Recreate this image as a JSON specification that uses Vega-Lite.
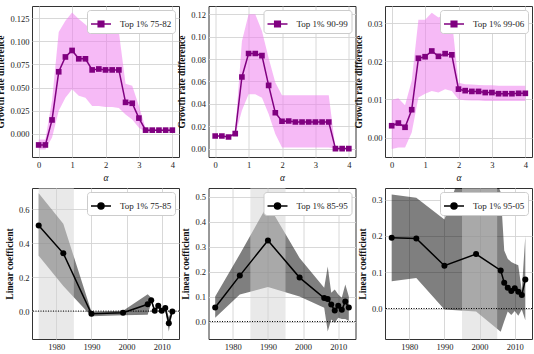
{
  "$schema": "https://vega.github.io/schema/vega-lite/v6.json",
  "padding": {"left": -5, "top": 5, "right": 0, "bottom": 0},
  "background": "white",
  "datasets": {
    "p1": [
      {"a": 0.0, "y": -0.012, "lo": -0.017, "hi": -0.006, "s": "Top 1% 75-82"},
      {"a": 0.2, "y": -0.012, "lo": -0.017, "hi": -0.006, "s": "Top 1% 75-82"},
      {"a": 0.4, "y": 0.015, "lo": -0.004, "hi": 0.036, "s": "Top 1% 75-82"},
      {"a": 0.6, "y": 0.067, "lo": 0.025, "hi": 0.110, "s": "Top 1% 75-82"},
      {"a": 0.8, "y": 0.083, "lo": 0.039, "hi": 0.122, "s": "Top 1% 75-82"},
      {"a": 1.0, "y": 0.090, "lo": 0.048, "hi": 0.131, "s": "Top 1% 75-82"},
      {"a": 1.2, "y": 0.081, "lo": 0.041, "hi": 0.124, "s": "Top 1% 75-82"},
      {"a": 1.4, "y": 0.081, "lo": 0.039, "hi": 0.118, "s": "Top 1% 75-82"},
      {"a": 1.6, "y": 0.069, "lo": 0.030, "hi": 0.111, "s": "Top 1% 75-82"},
      {"a": 1.8, "y": 0.070, "lo": 0.030, "hi": 0.110, "s": "Top 1% 75-82"},
      {"a": 2.0, "y": 0.069, "lo": 0.029, "hi": 0.110, "s": "Top 1% 75-82"},
      {"a": 2.2, "y": 0.069, "lo": 0.029, "hi": 0.110, "s": "Top 1% 75-82"},
      {"a": 2.4, "y": 0.069, "lo": 0.028, "hi": 0.110, "s": "Top 1% 75-82"},
      {"a": 2.6, "y": 0.034, "lo": 0.021, "hi": 0.054, "s": "Top 1% 75-82"},
      {"a": 2.8, "y": 0.033, "lo": 0.0155, "hi": 0.052, "s": "Top 1% 75-82"},
      {"a": 3.0, "y": 0.017, "lo": 0.0065, "hi": 0.030, "s": "Top 1% 75-82"},
      {"a": 3.2, "y": 0.004, "lo": 0.002, "hi": 0.006, "s": "Top 1% 75-82"},
      {"a": 3.4, "y": 0.004, "lo": 0.003, "hi": 0.005, "s": "Top 1% 75-82"},
      {"a": 3.6, "y": 0.004, "lo": 0.003, "hi": 0.005, "s": "Top 1% 75-82"},
      {"a": 3.8, "y": 0.004, "lo": 0.003, "hi": 0.005, "s": "Top 1% 75-82"},
      {"a": 4.0, "y": 0.004, "lo": 0.003, "hi": 0.005, "s": "Top 1% 75-82"}
    ],
    "p2": [
      {"a": 0.0, "y": 0.0113, "lo": 0.0108, "hi": 0.0118, "s": "Top 1% 90-99"},
      {"a": 0.2, "y": 0.0113, "lo": 0.0108, "hi": 0.0118, "s": "Top 1% 90-99"},
      {"a": 0.4, "y": 0.0104, "lo": 0.0099, "hi": 0.0109, "s": "Top 1% 90-99"},
      {"a": 0.6, "y": 0.0134, "lo": 0.012, "hi": 0.015, "s": "Top 1% 90-99"},
      {"a": 0.8, "y": 0.064, "lo": 0.034, "hi": 0.096, "s": "Top 1% 90-99"},
      {"a": 1.0, "y": 0.085, "lo": 0.0485, "hi": 0.120, "s": "Top 1% 90-99"},
      {"a": 1.2, "y": 0.085, "lo": 0.0485, "hi": 0.120, "s": "Top 1% 90-99"},
      {"a": 1.4, "y": 0.083, "lo": 0.0455, "hi": 0.105, "s": "Top 1% 90-99"},
      {"a": 1.6, "y": 0.0565, "lo": 0.031, "hi": 0.081, "s": "Top 1% 90-99"},
      {"a": 1.8, "y": 0.032, "lo": 0.013, "hi": 0.059, "s": "Top 1% 90-99"},
      {"a": 2.0, "y": 0.0244, "lo": 0.001, "hi": 0.0476, "s": "Top 1% 90-99"},
      {"a": 2.2, "y": 0.0247, "lo": 0.001, "hi": 0.0476, "s": "Top 1% 90-99"},
      {"a": 2.4, "y": 0.0238, "lo": 0.001, "hi": 0.0476, "s": "Top 1% 90-99"},
      {"a": 2.6, "y": 0.0238, "lo": 0.001, "hi": 0.0476, "s": "Top 1% 90-99"},
      {"a": 2.8, "y": 0.0238, "lo": 0.001, "hi": 0.0476, "s": "Top 1% 90-99"},
      {"a": 3.0, "y": 0.0238, "lo": 0.001, "hi": 0.0476, "s": "Top 1% 90-99"},
      {"a": 3.2, "y": 0.0238, "lo": 0.001, "hi": 0.0476, "s": "Top 1% 90-99"},
      {"a": 3.4, "y": 0.0238, "lo": 0.001, "hi": 0.0476, "s": "Top 1% 90-99"},
      {"a": 3.6, "y": 0.0, "lo": 0.0, "hi": 0.0, "s": "Top 1% 90-99"},
      {"a": 3.8, "y": 0.0, "lo": 0.0, "hi": 0.0, "s": "Top 1% 90-99"},
      {"a": 4.0, "y": 0.0, "lo": 0.0, "hi": 0.0, "s": "Top 1% 90-99"}
    ],
    "p3": [
      {"a": 0.0, "y": 0.0031, "lo": -0.0030, "hi": 0.0099, "s": "Top 1% 99-06"},
      {"a": 0.2, "y": 0.0038, "lo": -0.0026, "hi": 0.0103, "s": "Top 1% 99-06"},
      {"a": 0.4, "y": 0.0027, "lo": -0.0026, "hi": 0.0085, "s": "Top 1% 99-06"},
      {"a": 0.6, "y": 0.0073, "lo": 0.0013, "hi": 0.0149, "s": "Top 1% 99-06"},
      {"a": 0.8, "y": 0.0208, "lo": 0.0105, "hi": 0.0309, "s": "Top 1% 99-06"},
      {"a": 1.0, "y": 0.0212, "lo": 0.0115, "hi": 0.0309, "s": "Top 1% 99-06"},
      {"a": 1.2, "y": 0.0227, "lo": 0.0122, "hi": 0.0327, "s": "Top 1% 99-06"},
      {"a": 1.4, "y": 0.0213, "lo": 0.0118, "hi": 0.0315, "s": "Top 1% 99-06"},
      {"a": 1.6, "y": 0.0220, "lo": 0.0127, "hi": 0.0324, "s": "Top 1% 99-06"},
      {"a": 1.8, "y": 0.0217, "lo": 0.0122, "hi": 0.0310, "s": "Top 1% 99-06"},
      {"a": 2.0, "y": 0.0127, "lo": 0.0100, "hi": 0.0144, "s": "Top 1% 99-06"},
      {"a": 2.2, "y": 0.0123, "lo": 0.0098, "hi": 0.0140, "s": "Top 1% 99-06"},
      {"a": 2.4, "y": 0.0121, "lo": 0.0097, "hi": 0.0139, "s": "Top 1% 99-06"},
      {"a": 2.6, "y": 0.0121, "lo": 0.0097, "hi": 0.0138, "s": "Top 1% 99-06"},
      {"a": 2.8, "y": 0.0118, "lo": 0.0096, "hi": 0.0137, "s": "Top 1% 99-06"},
      {"a": 3.0, "y": 0.0118, "lo": 0.0096, "hi": 0.0137, "s": "Top 1% 99-06"},
      {"a": 3.2, "y": 0.0115, "lo": 0.0096, "hi": 0.0136, "s": "Top 1% 99-06"},
      {"a": 3.4, "y": 0.0115, "lo": 0.0096, "hi": 0.0136, "s": "Top 1% 99-06"},
      {"a": 3.6, "y": 0.0115, "lo": 0.0096, "hi": 0.0136, "s": "Top 1% 99-06"},
      {"a": 3.8, "y": 0.0116, "lo": 0.0096, "hi": 0.0136, "s": "Top 1% 99-06"},
      {"a": 4.0, "y": 0.0116, "lo": 0.0096, "hi": 0.0136, "s": "Top 1% 99-06"}
    ],
    "p4": [
      {"yr": 1975, "y": 0.506, "lo": 0.327, "hi": 0.696, "s": "Top 1% 75-85"},
      {"yr": 1982, "y": 0.341, "lo": 0.148, "hi": 0.516, "s": "Top 1% 75-85"},
      {"yr": 1990, "y": -0.016, "lo": -0.030, "hi": -0.004, "s": "Top 1% 75-85"},
      {"yr": 1999, "y": -0.010, "lo": -0.025, "hi": 0.002, "s": "Top 1% 75-85"},
      {"yr": 2006, "y": 0.040, "lo": -0.022, "hi": 0.100, "s": "Top 1% 75-85"},
      {"yr": 2007, "y": 0.064, "lo": 0.050, "hi": 0.078, "s": "Top 1% 75-85"},
      {"yr": 2008, "y": 0.002, "lo": -0.010, "hi": 0.014, "s": "Top 1% 75-85"},
      {"yr": 2009, "y": 0.032, "lo": 0.018, "hi": 0.046, "s": "Top 1% 75-85"},
      {"yr": 2010, "y": 0.002, "lo": -0.012, "hi": 0.016, "s": "Top 1% 75-85"},
      {"yr": 2011, "y": 0.018, "lo": 0.004, "hi": 0.032, "s": "Top 1% 75-85"},
      {"yr": 2012, "y": -0.072, "lo": -0.120, "hi": -0.035, "s": "Top 1% 75-85"},
      {"yr": 2013, "y": -0.002, "lo": -0.012, "hi": 0.008, "s": "Top 1% 75-85"}
    ],
    "p5": [
      {"yr": 1975, "y": 0.056, "lo": 0.015, "hi": 0.100, "s": "Top 1% 85-95"},
      {"yr": 1982, "y": 0.184, "lo": 0.108, "hi": 0.270, "s": "Top 1% 85-95"},
      {"yr": 1990, "y": 0.325, "lo": 0.138, "hi": 0.470, "s": "Top 1% 85-95"},
      {"yr": 1999, "y": 0.176, "lo": 0.100, "hi": 0.255, "s": "Top 1% 85-95"},
      {"yr": 2006, "y": 0.094, "lo": 0.055, "hi": 0.135, "s": "Top 1% 85-95"},
      {"yr": 2007, "y": 0.090, "lo": -0.040, "hi": 0.220, "s": "Top 1% 85-95"},
      {"yr": 2008, "y": 0.068, "lo": 0.008, "hi": 0.115, "s": "Top 1% 85-95"},
      {"yr": 2009, "y": 0.044, "lo": -0.005, "hi": 0.128, "s": "Top 1% 85-95"},
      {"yr": 2010, "y": 0.063, "lo": 0.015, "hi": 0.108, "s": "Top 1% 85-95"},
      {"yr": 2011, "y": 0.047, "lo": 0.010, "hi": 0.095, "s": "Top 1% 85-95"},
      {"yr": 2012, "y": 0.080, "lo": 0.010, "hi": 0.148, "s": "Top 1% 85-95"},
      {"yr": 2013, "y": 0.056, "lo": 0.002, "hi": 0.100, "s": "Top 1% 85-95"}
    ],
    "p6": [
      {"yr": 1975, "y": 0.195, "lo": 0.075, "hi": 0.314, "s": "Top 1% 95-05"},
      {"yr": 1982, "y": 0.193, "lo": 0.084, "hi": 0.305, "s": "Top 1% 95-05"},
      {"yr": 1990, "y": 0.118, "lo": -0.003, "hi": 0.245, "s": "Top 1% 95-05"},
      {"yr": 1999, "y": 0.150, "lo": -0.008, "hi": 0.500, "s": "Top 1% 95-05"},
      {"yr": 2006, "y": 0.105, "lo": -0.064, "hi": 0.320, "s": "Top 1% 95-05"},
      {"yr": 2007, "y": 0.071, "lo": -0.035, "hi": 0.160, "s": "Top 1% 95-05"},
      {"yr": 2008, "y": 0.057, "lo": -0.008, "hi": 0.137, "s": "Top 1% 95-05"},
      {"yr": 2009, "y": 0.048, "lo": -0.018, "hi": 0.128, "s": "Top 1% 95-05"},
      {"yr": 2010, "y": 0.056, "lo": -0.007, "hi": 0.123, "s": "Top 1% 95-05"},
      {"yr": 2011, "y": 0.046, "lo": -0.020, "hi": 0.119, "s": "Top 1% 95-05"},
      {"yr": 2012, "y": 0.037, "lo": -0.003, "hi": 0.049, "s": "Top 1% 95-05"},
      {"yr": 2013, "y": 0.080, "lo": -0.032, "hi": 0.200, "s": "Top 1% 95-05"}
    ]
  },
  "concat": [
    {
      "width": 147, "height": 151,
      "data": {"name": "p1"},
      "layer": [
        {"mark": {"type": "area", "color": "#ee82ee", "opacity": 0.55, "clip": true},
         "encoding": {
           "x": {"field": "a", "type": "quantitative", "scale": {"domain": [-0.2, 4.2], "nice": false, "zero": false}, "axis": {"values": [0, 1, 2, 3, 4], "format": "d", "title": "α", "titleFontStyle": "italic", "titleFontWeight": "normal", "labelFlush": false}},
           "y": {"field": "lo", "type": "quantitative", "scale": {"domain": [-0.025, 0.138], "nice": false, "zero": false}, "axis": {"values": [0, 0.025, 0.05, 0.075, 0.1, 0.125], "format": ".3f", "title": "Growth rate difference"}},
           "y2": {"field": "hi"}
         }},
        {"mark": {"type": "line", "strokeWidth": 1.5, "clip": true, "point": {"shape": "square", "filled": true, "size": 32}},
         "encoding": {
           "x": {"field": "a", "type": "quantitative", "axis": {"values": [0, 1, 2, 3, 4], "format": "d", "title": "α", "titleFontStyle": "italic", "titleFontWeight": "normal", "labelFlush": false}},
           "y": {"field": "y", "type": "quantitative", "axis": {"values": [0, 0.025, 0.05, 0.075, 0.1, 0.125], "format": ".3f", "title": "Growth rate difference"}},
           "color": {"field": "s", "type": "nominal", "scale": {"range": ["#800080"]},
             "legend": {"symbolType": "M-1,0L1,0M-0.28,-0.28H0.28V0.28H-0.28Z", "symbolFillColor": "#800080", "symbolStrokeColor": "#800080",
               "encode": {"symbols": {"update": {"fill": {"value": "#800080"}, "stroke": {"value": "#800080"}}}}}}
         }}
      ]
    },
    {
      "width": 147, "height": 151,
      "data": {"name": "p2"},
      "layer": [
        {"mark": {"type": "area", "color": "#ee82ee", "opacity": 0.55, "clip": true},
         "encoding": {
           "x": {"field": "a", "type": "quantitative", "scale": {"domain": [-0.2, 4.2], "nice": false, "zero": false}, "axis": {"values": [0, 1, 2, 3, 4], "format": "d", "title": "α", "titleFontStyle": "italic", "titleFontWeight": "normal", "labelFlush": false}},
           "y": {"field": "lo", "type": "quantitative", "scale": {"domain": [-0.0075, 0.1274], "nice": false, "zero": false}, "axis": {"values": [0, 0.02, 0.04, 0.06, 0.08, 0.1, 0.12], "format": ".2f", "title": "Growth rate difference"}},
           "y2": {"field": "hi"}
         }},
        {"mark": {"type": "line", "strokeWidth": 1.5, "clip": true, "point": {"shape": "square", "filled": true, "size": 32}},
         "encoding": {
           "x": {"field": "a", "type": "quantitative", "axis": {"values": [0, 1, 2, 3, 4], "format": "d", "title": "α", "titleFontStyle": "italic", "titleFontWeight": "normal", "labelFlush": false}},
           "y": {"field": "y", "type": "quantitative", "axis": {"values": [0, 0.02, 0.04, 0.06, 0.08, 0.1, 0.12], "format": ".2f", "title": "Growth rate difference"}},
           "color": {"field": "s", "type": "nominal", "scale": {"range": ["#800080"]},
             "legend": {"symbolType": "M-1,0L1,0M-0.28,-0.28H0.28V0.28H-0.28Z", "symbolFillColor": "#800080", "symbolStrokeColor": "#800080",
               "encode": {"symbols": {"update": {"fill": {"value": "#800080"}, "stroke": {"value": "#800080"}}}}}}
         }}
      ]
    },
    {
      "width": 147, "height": 151,
      "data": {"name": "p3"},
      "layer": [
        {"mark": {"type": "area", "color": "#ee82ee", "opacity": 0.55, "clip": true},
         "encoding": {
           "x": {"field": "a", "type": "quantitative", "scale": {"domain": [-0.2, 4.2], "nice": false, "zero": false}, "axis": {"values": [0, 1, 2, 3, 4], "format": "d", "title": "α", "titleFontStyle": "italic", "titleFontWeight": "normal", "labelFlush": false}},
           "y": {"field": "lo", "type": "quantitative", "scale": {"domain": [-0.0051, 0.0345], "nice": false, "zero": false}, "axis": {"values": [0, 0.01, 0.02, 0.03], "format": ".2f", "title": "Growth rate difference"}},
           "y2": {"field": "hi"}
         }},
        {"mark": {"type": "line", "strokeWidth": 1.5, "clip": true, "point": {"shape": "square", "filled": true, "size": 32}},
         "encoding": {
           "x": {"field": "a", "type": "quantitative", "axis": {"values": [0, 1, 2, 3, 4], "format": "d", "title": "α", "titleFontStyle": "italic", "titleFontWeight": "normal", "labelFlush": false}},
           "y": {"field": "y", "type": "quantitative", "axis": {"values": [0, 0.01, 0.02, 0.03], "format": ".2f", "title": "Growth rate difference"}},
           "color": {"field": "s", "type": "nominal", "scale": {"range": ["#800080"]},
             "legend": {"symbolType": "M-1,0L1,0M-0.28,-0.28H0.28V0.28H-0.28Z", "symbolFillColor": "#800080", "symbolStrokeColor": "#800080",
               "encode": {"symbols": {"update": {"fill": {"value": "#800080"}, "stroke": {"value": "#800080"}}}}}}
         }}
      ]
    },
    {
      "width": 147, "height": 151,
      "data": {"name": "p4"},
      "layer": [
        {"mark": {"type": "area", "color": "#000000", "opacity": 0.5, "clip": true},
         "encoding": {
           "x": {"field": "yr", "type": "quantitative", "scale": {"domain": [1973.1, 2014.9], "nice": false, "zero": false}, "axis": {"values": [1980, 1990, 2000, 2010], "format": "d", "title": "Year", "labelFlush": false}},
           "y": {"field": "lo", "type": "quantitative", "scale": {"domain": [-0.165, 0.727], "nice": false, "zero": false}, "axis": {"values": [0, 0.2, 0.4, 0.6], "format": ".1f", "title": "Linear coefficient"}},
           "y2": {"field": "hi"}
         }},
        {"data": {"values": [{"start": 1975, "end": 1985}]},
         "mark": {"type": "rect", "color": "#d3d3d3", "opacity": 0.5},
         "encoding": {"x": {"field": "start", "type": "quantitative", "axis": {"values": [1980, 1990, 2000, 2010], "format": "d", "title": "Year", "labelFlush": false}}, "x2": {"field": "end"}}},
        {"data": {"values": [{"z": 0}]},
         "mark": {"type": "rule", "color": "#000000", "strokeWidth": 1, "strokeDash": [1, 1.5]},
         "encoding": {"y": {"field": "z", "type": "quantitative", "axis": {"values": [0, 0.2, 0.4, 0.6], "format": ".1f", "title": "Linear coefficient"}}}},
        {"mark": {"type": "line", "strokeWidth": 1.5, "clip": true, "point": {"shape": "circle", "filled": true, "size": 36}},
         "encoding": {
           "x": {"field": "yr", "type": "quantitative", "axis": {"values": [1980, 1990, 2000, 2010], "format": "d", "title": "Year", "labelFlush": false}},
           "y": {"field": "y", "type": "quantitative", "axis": {"values": [0, 0.2, 0.4, 0.6], "format": ".1f", "title": "Linear coefficient"}},
           "color": {"field": "s", "type": "nominal", "scale": {"range": ["#000000"]},
             "legend": {"symbolType": "M-1,0L1,0M0.3,0A0.3,0.3,0,1,1,-0.3,0A0.3,0.3,0,1,1,0.3,0Z", "symbolFillColor": "#000000", "symbolStrokeColor": "#000000",
               "encode": {"symbols": {"update": {"fill": {"value": "#000000"}, "stroke": {"value": "#000000"}}}}}}
         }}
      ]
    },
    {
      "width": 147, "height": 151,
      "data": {"name": "p5"},
      "layer": [
        {"mark": {"type": "area", "color": "#000000", "opacity": 0.5, "clip": true},
         "encoding": {
           "x": {"field": "yr", "type": "quantitative", "scale": {"domain": [1973.1, 2014.9], "nice": false, "zero": false}, "axis": {"values": [1980, 1990, 2000, 2010], "format": "d", "title": "Year", "labelFlush": false}},
           "y": {"field": "lo", "type": "quantitative", "scale": {"domain": [-0.07, 0.535], "nice": false, "zero": false}, "axis": {"values": [0, 0.1, 0.2, 0.3, 0.4, 0.5], "format": ".1f", "title": "Linear coefficient"}},
           "y2": {"field": "hi"}
         }},
        {"data": {"values": [{"start": 1985, "end": 1995}]},
         "mark": {"type": "rect", "color": "#d3d3d3", "opacity": 0.5},
         "encoding": {"x": {"field": "start", "type": "quantitative", "axis": {"values": [1980, 1990, 2000, 2010], "format": "d", "title": "Year", "labelFlush": false}}, "x2": {"field": "end"}}},
        {"data": {"values": [{"z": 0}]},
         "mark": {"type": "rule", "color": "#000000", "strokeWidth": 1, "strokeDash": [1, 1.5]},
         "encoding": {"y": {"field": "z", "type": "quantitative", "axis": {"values": [0, 0.1, 0.2, 0.3, 0.4, 0.5], "format": ".1f", "title": "Linear coefficient"}}}},
        {"mark": {"type": "line", "strokeWidth": 1.5, "clip": true, "point": {"shape": "circle", "filled": true, "size": 36}},
         "encoding": {
           "x": {"field": "yr", "type": "quantitative", "axis": {"values": [1980, 1990, 2000, 2010], "format": "d", "title": "Year", "labelFlush": false}},
           "y": {"field": "y", "type": "quantitative", "axis": {"values": [0, 0.1, 0.2, 0.3, 0.4, 0.5], "format": ".1f", "title": "Linear coefficient"}},
           "color": {"field": "s", "type": "nominal", "scale": {"range": ["#000000"]},
             "legend": {"symbolType": "M-1,0L1,0M0.3,0A0.3,0.3,0,1,1,-0.3,0A0.3,0.3,0,1,1,0.3,0Z", "symbolFillColor": "#000000", "symbolStrokeColor": "#000000",
               "encode": {"symbols": {"update": {"fill": {"value": "#000000"}, "stroke": {"value": "#000000"}}}}}}
         }}
      ]
    },
    {
      "width": 147, "height": 151,
      "data": {"name": "p6"},
      "layer": [
        {"mark": {"type": "area", "color": "#000000", "opacity": 0.5, "clip": true},
         "encoding": {
           "x": {"field": "yr", "type": "quantitative", "scale": {"domain": [1973.1, 2014.9], "nice": false, "zero": false}, "axis": {"values": [1980, 1990, 2000, 2010], "format": "d", "title": "Year", "labelFlush": false}},
           "y": {"field": "lo", "type": "quantitative", "scale": {"domain": [-0.084, 0.332], "nice": false, "zero": false}, "axis": {"values": [0, 0.1, 0.2, 0.3], "format": ".1f", "title": "Linear coefficient"}},
           "y2": {"field": "hi"}
         }},
        {"data": {"values": [{"start": 1995, "end": 2005}]},
         "mark": {"type": "rect", "color": "#d3d3d3", "opacity": 0.5},
         "encoding": {"x": {"field": "start", "type": "quantitative", "axis": {"values": [1980, 1990, 2000, 2010], "format": "d", "title": "Year", "labelFlush": false}}, "x2": {"field": "end"}}},
        {"data": {"values": [{"z": 0}]},
         "mark": {"type": "rule", "color": "#000000", "strokeWidth": 1, "strokeDash": [1, 1.5]},
         "encoding": {"y": {"field": "z", "type": "quantitative", "axis": {"values": [0, 0.1, 0.2, 0.3], "format": ".1f", "title": "Linear coefficient"}}}},
        {"mark": {"type": "line", "strokeWidth": 1.5, "clip": true, "point": {"shape": "circle", "filled": true, "size": 36}},
         "encoding": {
           "x": {"field": "yr", "type": "quantitative", "axis": {"values": [1980, 1990, 2000, 2010], "format": "d", "title": "Year", "labelFlush": false}},
           "y": {"field": "y", "type": "quantitative", "axis": {"values": [0, 0.1, 0.2, 0.3], "format": ".1f", "title": "Linear coefficient"}},
           "color": {"field": "s", "type": "nominal", "scale": {"range": ["#000000"]},
             "legend": {"symbolType": "M-1,0L1,0M0.3,0A0.3,0.3,0,1,1,-0.3,0A0.3,0.3,0,1,1,0.3,0Z", "symbolFillColor": "#000000", "symbolStrokeColor": "#000000",
               "encode": {"symbols": {"update": {"fill": {"value": "#000000"}, "stroke": {"value": "#000000"}}}}}}
         }}
      ]
    }
  ],
  "columns": 3,
  "spacing": {"row": 31, "column": 29.5},
  "bounds": "flush",
  "resolve": {"scale": {"color": "independent"}, "legend": {"color": "independent"}},
  "config": {
    "font": "Liberation Serif",
    "view": {"stroke": "#333333", "strokeWidth": 1},
    "axis": {
      "grid": true, "gridColor": "#d4d4d4", "gridWidth": 0.9,
      "domain": false, "ticks": false, "labelOverlap": false, "labelBound": false,
      "labelFont": "Liberation Serif", "labelFontSize": 8.5, "labelColor": "#222222", "labelPadding": 3,
      "titleFont": "Liberation Serif", "titleFontSize": 9.5, "titleFontWeight": "bold", "titleColor": "#111111", "titlePadding": 4
    },
    "legend": {
      "title": null, "orient": "top-right", "offset": 4, "padding": 3,
      "fillColor": "white", "strokeColor": "#cccccc", "cornerRadius": 3,
      "symbolSize": 400, "symbolStrokeWidth": 1.5,
      "labelFont": "Liberation Serif", "labelFontSize": 9, "labelColor": "#222222", "labelOffset": 8
    }
  }
}
